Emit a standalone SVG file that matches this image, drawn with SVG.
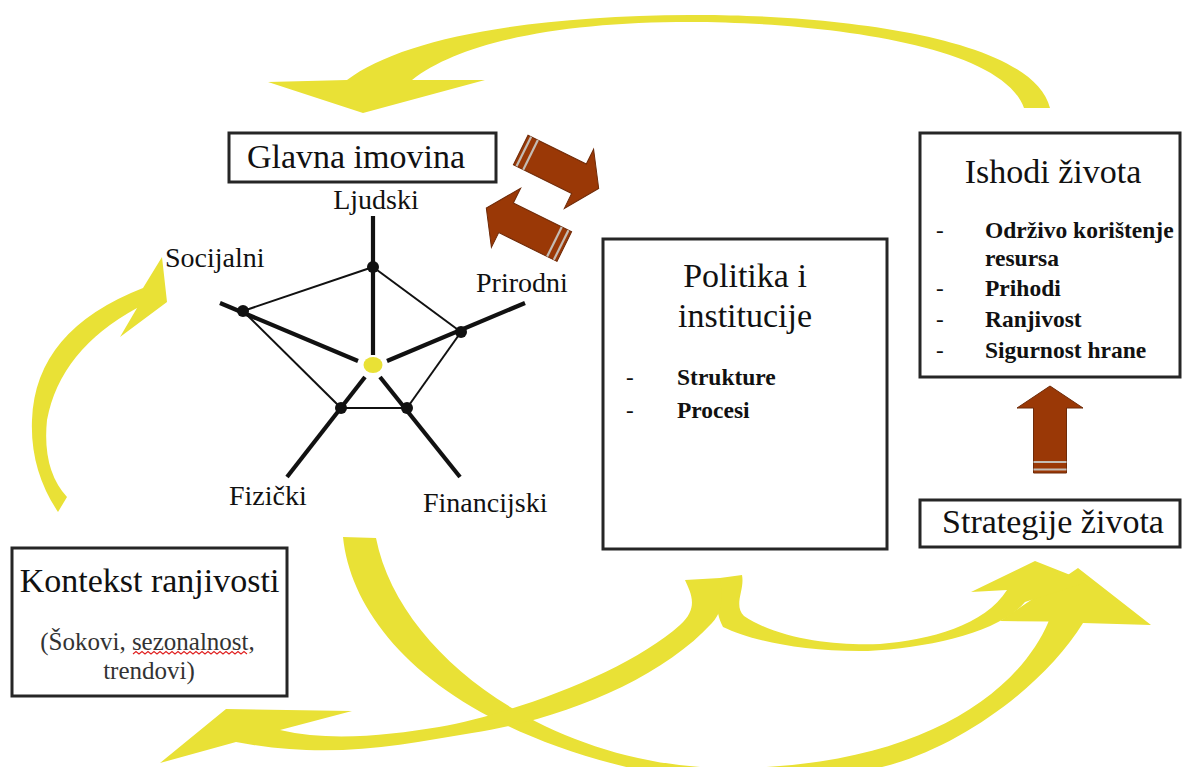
<svg xmlns="http://www.w3.org/2000/svg" width="1183" height="767" viewBox="0 0 1183 767">
<style>
.box{fill:#fff;stroke:#262626;stroke-width:3}
.title{font-family:"Liberation Serif","Times New Roman",serif;font-size:34px;fill:#111;text-anchor:middle}
.lbl{font-family:"Liberation Serif","Times New Roman",serif;font-size:28px;fill:#111}
.item{font-family:"Liberation Serif","Times New Roman",serif;font-size:23.5px;font-weight:bold;fill:#111}
.dash{font-family:"Liberation Serif","Times New Roman",serif;font-size:23px;fill:#111}
.sub{font-family:"Liberation Serif","Times New Roman",serif;font-size:25px;fill:#333;text-anchor:middle}
.yel{fill:#e9e136}
.brown{fill:#9a3806;stroke:#6e2a08;stroke-width:1}
.stripe{stroke:#c4bcb4;stroke-width:2.2}
.thick{stroke:#111;stroke-width:4.2;stroke-linecap:butt}
.thin{stroke:#111;stroke-width:2}
.dot{fill:#111}
</style>
<defs>
<g id="barrow">
<path class="brown" d="M0,-16.5 H65 V-33 L87,0 L65,33 V16.5 H0 Z"/>
<line class="stripe" x1="3.5" y1="-16.5" x2="3.5" y2="16.5"/>
<line class="stripe" x1="11" y1="-16.5" x2="11" y2="16.5"/>
</g>
</defs>
<rect width="1183" height="767" fill="#fff"/>

<g id="connectors">
<!-- top arc: Ishodi -> Glavna imovina -->
<path class="yel" d="M1050,108 C1030,30 800,14 690,15 C520,16 400,40 347,80 L268,82 L363,113 L485,80 L412,80 C460,42 560,22 690,22 C800,22 1000,40 1024,108 Z"/>
<!-- left arc: Kontekst -> Socijalni -->
<path class="yel" d="M67,497 L58,512 Q30,470 32,420 Q35,330 143,288 L162,257 L167,302 L120,337 L137,308 Q60,350 47,420 Q42,470 67,497 Z"/>
<!-- big arc: imovina -> Strategije -->
<path class="yel" d="M343,537 C352,625 440,725 639,770 Q760,800 882,767 C960,748 1045,685 1083,623 L1151,625 L1078,568 L1000,621 L1048.6,621.4 C1015,700 910,765 740,768 C560,772 400,660 376,538 Z"/>
<!-- small arc: Politika -> Strategije -->
<path class="yel" d="M720,578 L742,575 C745,590 733,605 744,616 C780,640 840,646 880,644 C930,640 985,625 1007,590 L971,592 L1035,561 L1088,582 L1025,602 C1000,632 930,648 868,651 C800,652 750,640 723,627 C714,610 716,590 720,578 Z"/>
<!-- bottom-left arc: Politika -> Kontekst -->
<path class="yel" d="M685,580 L720,578 C722,595 724,610 712,623 C660,680 560,720 472,733 C400,745 330,760 236,742 L160,763 L226,709 L352,711 L280,730 C330,742 390,735 439,727 C520,712 630,670 680,625 C700,607 690,592 685,580 Z"/>
<!-- brown arrows -->
<use href="#barrow" transform="translate(520.7,150) rotate(26.3)"/>
<use href="#barrow" transform="translate(564.3,246.6) rotate(206.3)"/>
<use href="#barrow" transform="translate(1050,473) rotate(-90)"/>
</g>

<g id="glavna-imovina">
<rect class="box" x="229" y="133" width="267" height="49"/>
<text class="title" x="356" y="168">Glavna imovina</text>
</g>

<g id="asset-pentagon">
<line class="thin" x1="373" y1="267" x2="243" y2="311"/>
<line class="thin" x1="373" y1="267" x2="461" y2="332"/>
<line class="thin" x1="243" y1="311" x2="341" y2="408"/>
<line class="thin" x1="461" y1="332" x2="407" y2="408"/>
<line class="thin" x1="341" y1="408" x2="407" y2="408"/>
<line class="thick" x1="373" y1="216" x2="373" y2="355"/>
<line class="thick" x1="220" y1="303" x2="358" y2="361"/>
<line class="thick" x1="525" y1="303" x2="387" y2="361"/>
<line class="thick" x1="287" y1="477" x2="365" y2="377"/>
<line class="thick" x1="460" y1="477" x2="380" y2="377"/>
<circle class="dot" cx="373" cy="267" r="6"/>
<circle class="dot" cx="243" cy="311" r="6"/>
<circle class="dot" cx="461" cy="332" r="6"/>
<circle class="dot" cx="341" cy="408" r="6"/>
<circle class="dot" cx="407" cy="408" r="6"/>
<ellipse cx="373" cy="365" rx="9.5" ry="8" fill="#e9e136"/>
<text class="lbl" x="376" y="209" text-anchor="middle">Ljudski</text>
<text class="lbl" x="165" y="267">Socijalni</text>
<text class="lbl" x="476" y="292">Prirodni</text>
<text class="lbl" x="229" y="505">Fizički</text>
<text class="lbl" x="423" y="512">Financijski</text>
</g>

<g id="politika-institucije">
<rect class="box" x="603" y="239" width="284" height="310"/>
<text class="title" x="745" y="287">Politika i</text>
<text class="title" x="745" y="327">institucije</text>
<text class="dash" x="626" y="385">-</text>
<text class="item" x="677" y="385" font-size="25">Strukture</text>
<text class="dash" x="626" y="418">-</text>
<text class="item" x="677" y="418" font-size="25">Procesi</text>
</g>

<g id="ishodi-zivota">
<rect class="box" x="920" y="133" width="260" height="244"/>
<text class="title" x="1053" y="183">Ishodi života</text>
<text class="dash" x="936" y="238">-</text>
<text class="item" x="985" y="238">Održivo korištenje</text>
<text class="item" x="985" y="266">resursa</text>
<text class="dash" x="936" y="296">-</text>
<text class="item" x="985" y="296">Prihodi</text>
<text class="dash" x="936" y="327">-</text>
<text class="item" x="985" y="327">Ranjivost</text>
<text class="dash" x="936" y="358">-</text>
<text class="item" x="985" y="358">Sigurnost hrane</text>
</g>

<g id="strategije-zivota">
<rect class="box" x="920" y="500" width="260" height="47"/>
<text class="title" x="1053" y="533">Strategije života</text>
</g>

<g id="kontekst-ranjivosti">
<rect class="box" x="12" y="548" width="275" height="148"/>
<text class="title" x="149.5" y="592">Kontekst ranjivosti</text>
<text class="sub" x="147.5" y="650">(Šokovi, sezonalnost,</text>
<text class="sub" x="149" y="679">trendovi)</text>
<path d="M133,654 l3,-2.5 l3,2.5 l3,-2.5 l3,2.5 l3,-2.5 l3,2.5 l3,-2.5 l3,2.5 l3,-2.5 l3,2.5 l3,-2.5 l3,2.5 l3,-2.5 l3,2.5 l3,-2.5 l3,2.5 l3,-2.5 l3,2.5 l3,-2.5 l3,2.5 l3,-2.5 l3,2.5 l3,-2.5 l3,2.5 l3,-2.5 l3,2.5 l3,-2.5 l3,2.5 l3,-2.5 l3,2.5 l3,-2.5 l3,2.5 l3,-2.5 l3,2.5 l3,-2.5 l3,2.5 l3,-2.5 l3,2.5" fill="none" stroke="#e02020" stroke-width="1.1"/>
</g>
</svg>
